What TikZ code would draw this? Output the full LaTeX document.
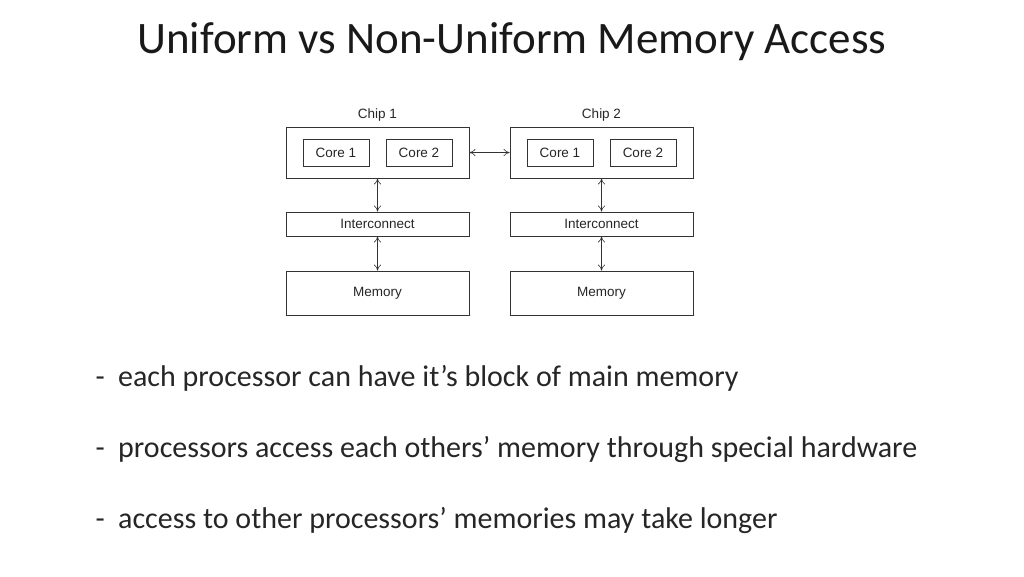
\documentclass[tikz,border=0pt]{standalone}
\usepackage{fontspec}
\setmainfont{Carlito}
\newfontfamily\arialf{Liberation Sans}
\usetikzlibrary{arrows.meta}
\begin{document}
\begin{tikzpicture}[x=1pt,y=-1pt,
  box/.style={draw=black!80,line width=0.7pt,minimum height=#1,inner sep=0pt,font=\arialf\fontsize{13.5}{16}\selectfont,text=black!85},
  lbl/.style={font=\arialf\fontsize{13.5}{16}\selectfont,text=black!85},
  arr/.style={{To[length=6pt,width=7pt]}-{To[length=6pt,width=7pt]},line width=0.6pt,black!80},
  bul/.style={anchor=west,font=\fontsize{30}{36}\selectfont,text=black!85}]
\useasboundingbox (0,0) rectangle (1024,576);
\node[font=\fontsize{45}{54}\selectfont,text=black!90] (title) at (512,42) {Uniform vs Non-Uniform Memory Access};
\foreach \n/\x in {1/377.5,2/601.5}{
  \node[lbl] (chiplbl\n) at (\x,115) {Chip \n};
  \node[box=51pt,minimum width=183pt] (chip\n) at (\x,152.5) {};
  \node[box=27pt,minimum width=66pt] (c\n a) at (\x-41.5,152.5) {Core 1};
  \node[box=27pt,minimum width=66pt] (c\n b) at (\x+41.5,152.5) {Core 2};
  \node[box=24pt,minimum width=183pt] (ic\n) at (\x,224) {Interconnect};
  \node[box=44pt,minimum width=183pt] (mem\n) at (\x,293) {Memory};
  \draw[arr] (chip\n) -- (ic\n);
  \draw[arr] (ic\n) -- (mem\n);
}
\draw[arr] (chip1) -- (chip2);
\node[bul] (b1) at (92,378) {-\hspace{0.45em}each processor can have it’s block of main memory};
\node[bul] (b2) at (92,449) {-\hspace{0.45em}processors access each others’ memory through special hardware};
\node[bul] (b3) at (92,520) {-\hspace{0.45em}access to other processors’ memories may take longer};
\end{tikzpicture}
\end{document}
